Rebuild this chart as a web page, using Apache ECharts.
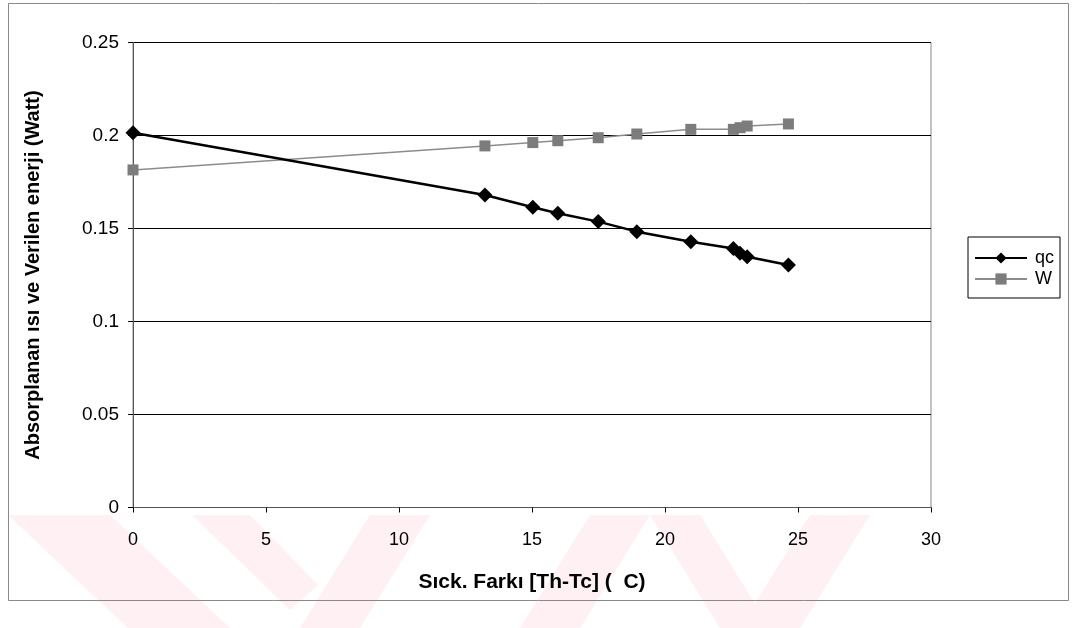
<!DOCTYPE html>
<html>
<head>
<meta charset="utf-8">
<script src="https://cdn.jsdelivr.net/npm/echarts@6/dist/echarts.min.js"></script>
<style>
  html, body { margin: 0; padding: 0; background: #fff; }
  #chart { width: 1075px; height: 628px; }
</style>
</head>
<body>
<div id="chart"></div>
<script>
// Temperature difference Th-Tc (°C) for each measurement
const deltaT = [0, 13.23, 15.03, 15.97, 17.49, 18.94, 20.97, 22.57, 22.82, 23.09, 24.64];
// Absorbed heat qc (W)
const qcValues = [0.2015, 0.1680, 0.1614, 0.1582, 0.1537, 0.1483, 0.1429, 0.1393, 0.1367, 0.1348, 0.1304];
// Supplied power W (W)
const wValues = [0.1815, 0.1944, 0.1962, 0.1972, 0.1988, 0.2008, 0.2033, 0.2033, 0.2042, 0.2051, 0.2062];

const xTicks = { min: 0, max: 30, interval: 5 };
const yTicks = { min: 0, max: 0.25, interval: 0.05 };

const FONT = '"Liberation Sans", Arial, sans-serif';
const pair = (xs, ys) => xs.map((x, i) => [x, ys[i]]);

const chart = echarts.init(document.getElementById('chart'), null, { renderer: 'canvas' });

const pink = '#fef0f3';
const band = pts => ({ type: 'polygon', z: -10, silent: true, shape: { points: pts }, style: { fill: pink } });

chart.setOption({
  backgroundColor: '#fff',
  animation: false,
  graphic: [
    // faint page stripes along the bottom
    band([[8,515],[110,515],[230,628],[128,628]]),
    band([[192,515],[250,515],[318,585],[290,610]]),
    band([[300,628],[370,515],[430,515],[360,628]]),
    band([[520,628],[590,515],[650,515],[580,628]]),
    band([[650,515],[700,515],[770,628],[720,628]]),
    band([[740,628],[810,515],[870,515],[800,628]]),
    // outer chart frame
    { type: 'rect', z: 0, silent: true, shape: { x: 8.5, y: 3.5, width: 1060, height: 597 }, style: { fill: 'none', stroke: '#8a8a8a', lineWidth: 1 } }
  ],
  grid: {
    left: 133, right: 144, top: 42.5, bottom: 120.5,
    show: true, borderColor: '#8a8a8a', borderWidth: 1, backgroundColor: 'transparent'
  },
  legend: {
    orient: 'vertical',
    left: 968, top: 237,
    padding: [12, 6, 10, 6],
    itemGap: 3,
    itemWidth: 52, itemHeight: 14,
    borderColor: '#000', borderWidth: 1,
    textStyle: { fontFamily: FONT, fontSize: 18, color: '#000', padding: [0, 0, 0, 3] },
    data: ['qc', 'W']
  },
  xAxis: {
    type: 'value',
    min: xTicks.min, max: xTicks.max, interval: xTicks.interval,
    name: 'Sıck. Farkı [Th-Tc] (  C)',
    nameLocation: 'middle', nameGap: 64,
    nameTextStyle: { fontFamily: FONT, fontSize: 21, fontWeight: 'bold', color: '#000' },
    axisLine: { show: true, lineStyle: { color: '#555', width: 1 } },
    axisTick: { show: true, inside: false, length: 5, lineStyle: { color: '#000' } },
    axisLabel: { fontFamily: FONT, fontSize: 18, color: '#000', margin: 24 },
    splitLine: { show: false }
  },
  yAxis: {
    type: 'value',
    min: yTicks.min, max: yTicks.max, interval: yTicks.interval,
    name: 'Absorplanan ısı ve Verilen enerji (Watt)',
    nameLocation: 'middle', nameGap: 90, nameRotate: 90,
    nameTextStyle: { fontFamily: FONT, fontSize: 20, fontWeight: 'bold', color: '#000' },
    axisLine: { show: true, lineStyle: { color: '#555', width: 1 } },
    axisTick: { show: true, inside: false, length: 5, lineStyle: { color: '#000' } },
    axisLabel: { fontFamily: FONT, fontSize: 19, color: '#000', margin: 14 },
    splitLine: { show: true, lineStyle: { color: '#000', width: 1 } }
  },
  series: [
    {
      name: 'qc',
      type: 'line',
      data: pair(deltaT, qcValues),
      symbol: 'diamond', symbolSize: 15,
      lineStyle: { color: '#000', width: 2.5 },
      itemStyle: { color: '#000' },
      z: 4
    },
    {
      name: 'W',
      type: 'line',
      data: pair(deltaT, wValues),
      symbol: 'rect', symbolSize: 11,
      lineStyle: { color: '#8c8c8c', width: 1.5 },
      itemStyle: { color: '#7c7c7c' },
      z: 3
    }
  ]
});
</script>
</body>
</html>
